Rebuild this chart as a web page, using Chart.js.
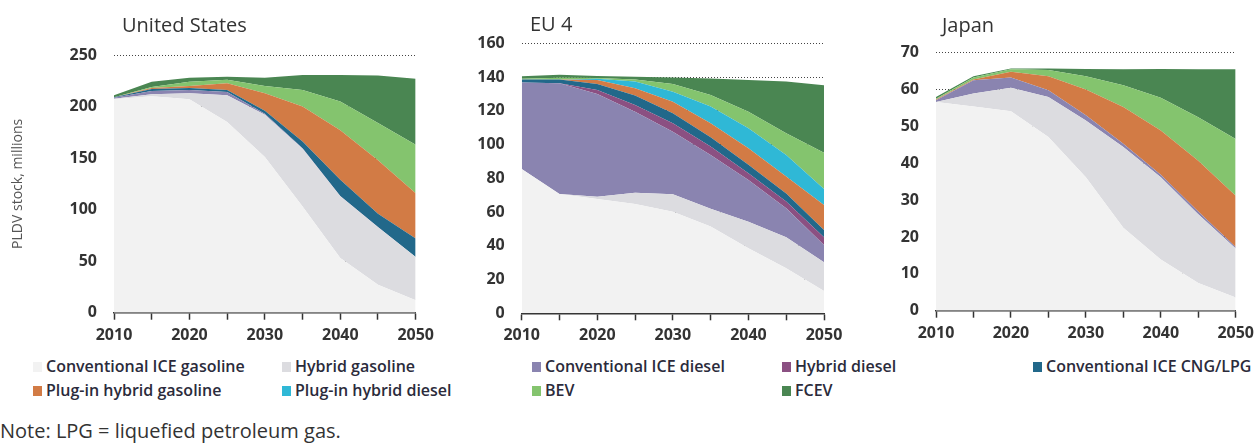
<!DOCTYPE html>
<html>
<head>
<meta charset="utf-8">
<script src="https://cdn.jsdelivr.net/npm/chart.js@4"></script>
<style>
  body { margin: 0; background: #fff; font-family: "Open Sans", sans-serif; }
  #page { position: relative; width: 1260px; height: 445px; overflow: hidden; }
  .panel { position: absolute; top: 0; height: 350px; }
  .ptitle { position: absolute; font-size: 20px; line-height: 20px; color: #333; }
  .leg { position: absolute; font-size: 16px; font-weight: 600; color: #2b2b3b; line-height: 18px; white-space: nowrap; }
  .leg span { display: inline-block; width: 9px; height: 10px; margin-right: 4px; vertical-align: 0px; }
  #note { position: absolute; left: 0; top: 419px; font-size: 20px; line-height: 24px; color: #333; white-space: nowrap; }
</style>
</head>
<body>
<div id="page">
  <div class="panel" style="left:0;width:440px"><canvas id="us" width="440" height="350"></canvas></div>
  <div class="panel" style="left:440px;width:410px"><canvas id="eu" width="410" height="350"></canvas></div>
  <div class="panel" style="left:850px;width:410px"><canvas id="jp" width="410" height="350"></canvas></div>
  <div class="ptitle" style="left:122px;top:15px">United States</div>
  <div class="ptitle" style="left:530px;top:14px">EU 4</div>
  <div class="ptitle" style="left:942px;top:15px">Japan</div>
  <div id="legend"></div>
  <div id="note">Note: LPG = liquefied petroleum gas.</div>
</div>
<script>
// Years and series (millions of vehicles, stacked bottom to top)
const years = [2010, 2015, 2020, 2025, 2030, 2035, 2040, 2045, 2050];

const seriesNames = [
  'Conventional ICE gasoline', 'Hybrid gasoline', 'Conventional ICE diesel',
  'Hybrid diesel', 'Conventional ICE CNG/LPG', 'Plug-in hybrid gasoline',
  'Plug-in hybrid diesel', 'BEV', 'FCEV'
];
const seriesColors = [
  '#f2f2f2', '#dcdce0', '#8a84b0', '#8b5082', '#22688a',
  '#d27b45', '#2fb8d6', '#84c46e', '#4a8652'
];

// United States
const usIceGasoline = [207, 210, 207, 185, 151, 103, 53, 27, 12];
const usHybridGasoline = [0.5, 2, 6, 26, 41, 56, 60, 56, 42];
const usIceDiesel = [1, 3, 3, 3, 1, 0.5, 0.3, 0.2, 0.1];
const usHybridDiesel = [0, 0, 0, 0, 0, 0, 0, 0, 0];
const usCngLpg = [0.5, 2, 2, 2, 3, 6.5, 15.7, 12.8, 17.9];
const usPhevGasoline = [0, 1, 2, 6.5, 17, 34, 48, 52, 44];
const usPhevDiesel = [0, 0, 0, 0, 0, 0, 0, 0, 0];
const usBev = [0, 1, 4, 3.5, 7, 16, 28, 36, 47];
const usFcev = [2, 5, 4, 3, 8, 14.6, 25.6, 46, 64];

// EU 4
const euIceGasoline = [85.5, 70.7, 67.7, 64.8, 60.2, 51.4, 38.5, 26.7, 13.2];
const euHybridGasoline = [0, 0, 1.3, 6.7, 10.3, 10.6, 15.8, 18.3, 17.0];
const euIceDiesel = [51.2, 65.6, 61, 48, 37.1, 31.8, 24.7, 17.2, 10.3];
const euHybridDiesel = [0, 0, 2.3, 3.9, 5, 5, 4, 4, 4.5];
const euCngLpg = [1.9, 2.3, 3.6, 5.6, 5.9, 5.5, 5, 4.8, 4.4];
const euPhevGasoline = [0, 0, 2.4, 4.3, 6.9, 8.3, 9.8, 10, 14.8];
const euPhevDiesel = [0, 0, 0.7, 4, 5.9, 9.9, 11.8, 12.8, 9.5];
const euBev = [0.4, 1, 0.4, 1.3, 4.6, 6.9, 9.9, 12.9, 21.5];
const euFcev = [1.5, 1.7, 1.2, 1.6, 3.9, 9.8, 18.8, 30.6, 39.9];

// Japan
const jpIceGasoline = [56.6, 55.4, 54.1, 47.1, 36.2, 22.5, 13.9, 7.5, 3.6];
const jpHybridGasoline = [0, 3.5, 6.4, 10.9, 15.4, 21.9, 22.3, 18.7, 13.3];
const jpIceDiesel = [0.5, 3.6, 2.8, 1.8, 1.4, 0.9, 0.7, 0.7, 0.4];
const jpHybridDiesel = [0, 0, 0, 0, 0, 0, 0, 0, 0];
const jpCngLpg = [0, 0, 0, 0, 0, 0, 0, 0, 0];
const jpPhevGasoline = [0.2, 0.2, 1.5, 3.8, 7, 10, 12, 13.8, 13.9];
const jpPhevDiesel = [0, 0, 0, 0, 0, 0, 0, 0, 0];
const jpBev = [0.2, 0.6, 0.7, 1.7, 3.6, 5.9, 8.9, 11.8, 15.4];
const jpFcev = [0.5, 0.3, 0.2, 0.4, 2, 4.3, 7.8, 13, 18.9];

const tickFont = { family: 'Open Sans', size: 16, weight: 'bold' };

function makePanel(id, series, yMax, yStep, box) {
  const datasets = series.map((vals, i) => ({
    label: seriesNames[i],
    data: years.map((yr, j) => ({ x: yr, y: vals[j] })),
    backgroundColor: seriesColors[i],
    borderWidth: 0,
    pointRadius: 0,
    tension: 0,
    fill: i === 0 ? 'origin' : '-1'
  }));

  new Chart(document.getElementById(id), {
    type: 'line',
    data: { datasets: datasets },
    options: {
      responsive: false,
      animation: false,
      events: [],
      layout: { padding: { top: box.top, right: box.right, left: 0, bottom: 0 } },
      plugins: { legend: { display: false }, tooltip: { enabled: false } },
      scales: {
        x: {
          type: 'linear',
          min: 2010,
          max: 2050,
          afterFit: s => { s.height = box.xh; },
          grid: { drawOnChartArea: false, drawTicks: true, tickLength: 7, tickColor: '#333', tickWidth: 1.5 },
          border: { display: true, color: '#333', width: 1.5 },
          ticks: {
            stepSize: 5,
            autoSkip: false,
            maxRotation: 0,
            padding: 6,
            color: '#333',
            font: tickFont,
            callback: v => (v % 10 === 0 ? String(v) : '')
          }
        },
        y: {
          stacked: true,
          min: 0,
          max: yMax,
          afterFit: s => { s.width = box.yw; },
          grid: { color: '#444', lineWidth: 1, drawTicks: false },
          border: { display: false, dash: [1, 2] },
          ticks: { stepSize: yStep, padding: 17, color: '#333', font: tickFont },
          title: {
            display: !!box.ytitle,
            text: box.ytitle || '',
            color: '#555',
            font: { family: 'Open Sans', size: 14 },
            padding: { top: 10, bottom: 0 }
          }
        }
      }
    }
  });
}

makePanel('us', [usIceGasoline, usHybridGasoline, usIceDiesel, usHybridDiesel, usCngLpg,
  usPhevGasoline, usPhevDiesel, usBev, usFcev], 250, 50,
  { top: 55, right: 23, yw: 114, xh: 37.3, ytitle: 'PLDV stock, millions' });

makePanel('eu', [euIceGasoline, euHybridGasoline, euIceDiesel, euHybridDiesel, euCngLpg,
  euPhevGasoline, euPhevDiesel, euBev, euFcev], 160, 20,
  { top: 43.3, right: 26, yw: 81.7, xh: 36.7 });

makePanel('jp', [jpIceGasoline, jpHybridGasoline, jpIceDiesel, jpHybridDiesel, jpCngLpg,
  jpPhevGasoline, jpPhevDiesel, jpBev, jpFcev], 70, 10,
  { top: 52.7, right: 23.3, yw: 86, xh: 39.3 });

// Shared legend below the panels
const legendCols = [33, 282, 532, 782, 1033];
const legendRows = [366, 390];
const legendOrder = [0, 1, 2, 3, 4, 5, 6, 7, 8];
const legendEl = document.getElementById('legend');
legendOrder.forEach((idx, k) => {
  const item = document.createElement('div');
  item.className = 'leg';
  item.style.left = legendCols[k % 5] + 'px';
  item.style.top = (legendRows[Math.floor(k / 5)] - 9) + 'px';
  item.innerHTML = `<span style="background:${seriesColors[idx]}"></span>${seriesNames[idx]}`;
  legendEl.appendChild(item);
});
</script>
</body>
</html>
